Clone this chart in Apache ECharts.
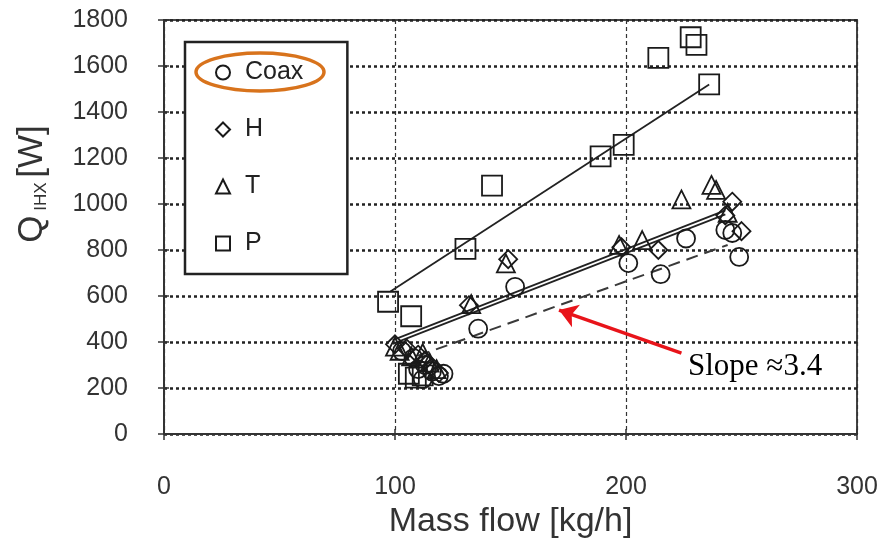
<!DOCTYPE html>
<html>
<head>
<meta charset="utf-8">
<script src="https://cdn.jsdelivr.net/npm/echarts@6/dist/echarts.min.js"></script>
<style>
html, body { margin: 0; padding: 0; background: #fff; }
#chart { width: 884px; height: 546px; }
</style>
</head>
<body>
<div id="chart"></div>
<script>
// mass flow [kg/h], Q_IHX [W]
const coax = [
  [103, 360], [108, 330], [113, 300], [116, 272], [119, 252], [121, 262],
  [112, 238], [110, 282], [136, 458], [152, 640], [201, 743], [215, 695],
  [226, 850], [243, 887], [246, 874], [249, 770]
];
const hData = [
  [100, 390], [105, 372], [110, 345], [113, 320], [116, 292], [119, 265],
  [132, 560], [149, 760], [198, 812], [214, 800], [246, 1010], [250, 882],
  [243, 950]
];
const tData = [
  [100, 380], [102, 362], [112, 352], [107, 338], [115, 310], [118, 282],
  [133, 565], [148, 742], [197, 822], [207, 843], [224, 1020], [237, 1083],
  [239, 1061], [244, 962]
];
const pData = [
  [97, 575], [107, 512], [130.5, 805], [142, 1080], [189, 1207], [199, 1257],
  [214, 1635], [228, 1725], [230.5, 1692], [236, 1520],
  [106, 262], [109, 245], [112, 255]
];

// fitted lines
const fitP = [[98, 620], [236, 1520]];
const fitT = [[99, 408], [243, 972]];
const fitH = [[99, 392], [243, 955]];
const fitCoax = [[110, 340], [244, 822]];

// annotation arrow
const arrowFrom = [224, 352];
const arrowTo = [171, 539];

const ink = '#1a1a1a';
const font = 'Liberation Sans, Arial, sans-serif';

function scatter(name, symbol, data, size) {
  return {
    name: name,
    type: 'scatter',
    symbol: symbol,
    symbolSize: size,
    data: data,
    itemStyle: { color: 'rgba(255,255,255,0)', borderColor: ink, borderWidth: 1.8, opacity: 1 },
    z: 3
  };
}

function fitLine(data, dash) {
  return {
    type: 'line',
    data: data,
    symbol: 'none',
    silent: true,
    lineStyle: { color: dash ? '#3a3a3a' : '#222', width: dash ? 2 : 1.8, type: dash ? [12, 7] : 'solid' },
    z: 2
  };
}

const chart = echarts.init(document.getElementById('chart'));

const dashed = fitLine(fitCoax, true);
dashed.markLine = {
  silent: true,
  symbol: ['none', 'arrow'],
  symbolSize: 18,
  label: { show: false },
  lineStyle: { color: '#e8141a', width: 3.5, type: 'solid' },
  data: [[{ coord: arrowFrom }, { coord: arrowTo }]]
};

chart.setOption({
  animation: false,
  backgroundColor: '#fff',
  grid: {
    left: 164, right: 27, top: 20, bottom: 112,
    containLabel: false, outerBoundsMode: 'none',
    show: true, borderColor: '#444', borderWidth: 2
  },
  legend: {
    data: ['Coax', 'H', 'T', 'P'],
    orient: 'vertical',
    left: 185,
    top: 42,
    itemWidth: 14,
    itemHeight: 14,
    itemGap: 32,
    padding: [18, 44, 18, 30],
    borderColor: '#222',
    borderWidth: 2.5,
    backgroundColor: '#fff',
    textStyle: { fontSize: 25, color: '#222', fontFamily: font, padding: [0, 0, 0, 10] }
  },
  xAxis: [{
    type: 'value', min: 0, max: 300, interval: 100,
    name: 'Mass flow [kg/h]', nameLocation: 'middle', nameGap: 70,
    nameTextStyle: { fontSize: 34, color: '#333', fontFamily: font },
    axisLine: { lineStyle: { color: '#333', width: 2 } },
    axisTick: { length: 6, lineStyle: { color: '#333', width: 1.5 } },
    axisLabel: { fontSize: 25, color: '#333', fontFamily: font, margin: 41 },
    splitLine: { show: true, lineStyle: { color: '#333', width: 1.2, type: [4, 3] } }
  }, {
    type: 'value', min: 0, max: 300, interval: 100, position: 'bottom',
    axisLine: { show: false }, axisLabel: { show: false }, splitLine: { show: false },
    axisTick: { inside: true, length: 5, lineStyle: { color: '#333', width: 1.5 } }
  }],
  yAxis: [{
    type: 'value', min: 0, max: 1800, interval: 200,
    axisLine: { show: true, lineStyle: { color: '#333', width: 2 } },
    axisTick: { show: true, length: 6, lineStyle: { color: '#333', width: 1.5 } },
    axisLabel: { fontSize: 25, color: '#333', fontFamily: font, margin: 36, formatter: function (v) { return String(v); } },
    splitLine: { show: true, lineStyle: { color: '#222', width: 2.5, type: [3, 3] } }
  }, {
    type: 'value', min: 0, max: 1800, interval: 200, position: 'left',
    axisLine: { show: false }, axisLabel: { show: false }, splitLine: { show: false },
    axisTick: { show: true, inside: true, length: 5, lineStyle: { color: '#333', width: 1.5 } }
  }],
  graphic: [
    {
      type: 'text', x: 32, y: 184, rotation: Math.PI / 2,
      style: {
        text: '{q|Q}{s| IHX }{q|[W]}',
        align: 'center', verticalAlign: 'middle',
        fill: '#333', fontFamily: font,
        rich: {
          q: { fontSize: 35, fontFamily: font, fill: '#333' },
          s: { fontSize: 17, fontFamily: font, fill: '#333', verticalAlign: 'bottom' }
        }
      }
    },
    {
      type: 'text', x: 688, y: 367,
      style: { text: 'Slope \u22483.4', fontSize: 31, fontFamily: 'Liberation Serif, Times New Roman, serif', fill: '#000', verticalAlign: 'middle' },
      z: 20
    },
    {
      type: 'ellipse', shape: { cx: 260, cy: 72, rx: 64, ry: 19 },
      style: { fill: 'none', stroke: '#d8731c', lineWidth: 3.5 }, z: 100
    }
  ],
  series: [
    scatter('Coax', 'circle', coax, 18),
    scatter('H', 'diamond', hData, 18),
    scatter('T', 'triangle', tData, 18),
    scatter('P', 'rect', pData, 20),
    fitLine(fitP, false),
    fitLine(fitT, false),
    fitLine(fitH, false),
    dashed
  ]
});
</script>
</body>
</html>
